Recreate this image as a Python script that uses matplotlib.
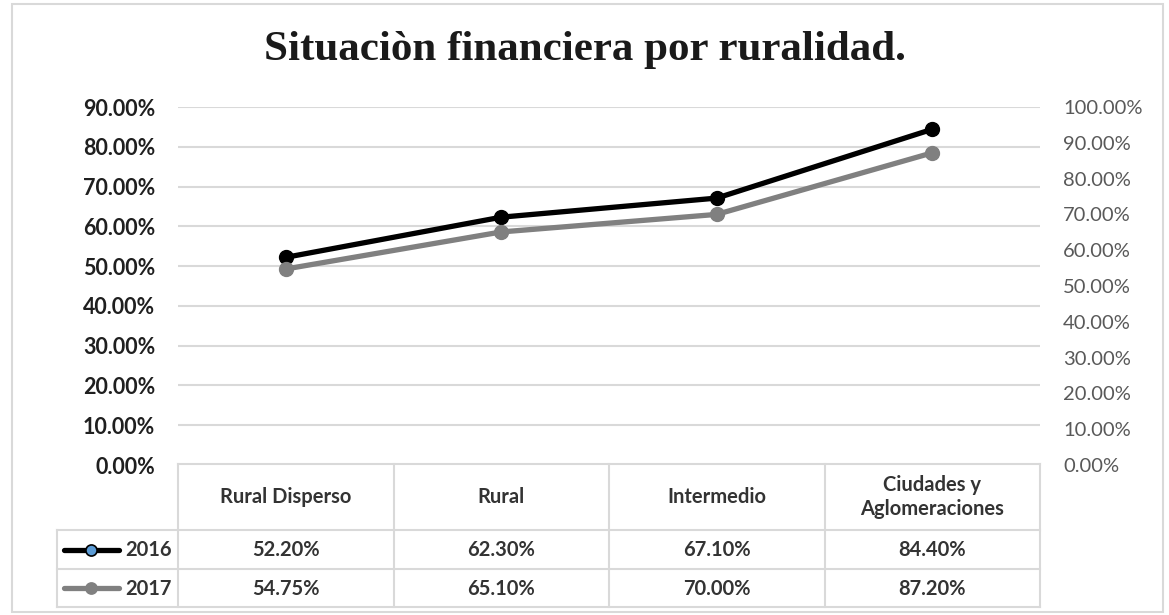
import matplotlib
matplotlib.use("Agg")
import matplotlib.pyplot as plt
from matplotlib.transforms import blended_transform_factory
from matplotlib.lines import Line2D
from matplotlib.patches import Rectangle

# data
categories = ["Rural Disperso", "Rural", "Intermedio", "Ciudades y\nAglomeraciones"]
series_names = ["2016", "2017"]
values_2016 = [0.522, 0.623, 0.671, 0.844]
values_2017 = [0.5475, 0.651, 0.700, 0.872]
left_ticks = [0.0, 0.1, 0.2, 0.3, 0.4, 0.5, 0.6, 0.7, 0.8, 0.9]
right_ticks = [0.0, 0.1, 0.2, 0.3, 0.4, 0.5, 0.6, 0.7, 0.8, 0.9, 1.0]
title = "Situaciòn financiera por ruralidad."

W, H = 1169, 615
FONT = "Lato"
GRID = "#d9d9d9"
TXT = "#333333"

fig = plt.figure(figsize=(W / 100, H / 100), dpi=100)
fig.patch.set_facecolor("white")

# overlay in pixel coords (y down) for frame and table
over = fig.add_axes([0, 0, 1, 1], zorder=0)
over.set_xlim(0, W)
over.set_ylim(H, 0)
over.axis("off")
over.add_patch(Rectangle((12, 4), 1151, 608, fill=False, edgecolor=GRID, lw=1.5))

# plot area
x0, x1, ytop, ybot = 178, 1040, 107, 465
ax = fig.add_axes([x0 / W, (H - ybot) / H, (x1 - x0) / W, (ybot - ytop) / H], zorder=2)
ax.patch.set_alpha(0)
ax2 = ax.twinx()
xs = list(range(len(categories)))

ax.set_xlim(-0.5, len(categories) - 0.5)
ax.set_ylim(0, 0.9)
ax2.set_ylim(0, 1.0)
ax.set_yticks(left_ticks)
ax2.set_yticks(right_ticks)
ax.set_yticklabels(["%.2f%%" % (v * 100) for v in left_ticks],
                   fontsize=15.5, fontweight="bold", family=FONT, color="#1f1f1f")
ax2.set_yticklabels(["%.2f%%" % (v * 100) for v in right_ticks],
                    fontsize=14.5, family=FONT, color="#595959")
ax.tick_params(axis="y", length=0, pad=16.5)
ax2.tick_params(axis="y", length=0, pad=16.5)
ax.set_xticks([])
for a in (ax, ax2):
    for s in a.spines.values():
        s.set_visible(False)
ax.grid(axis="y", color=GRID, lw=1.5)
ax.set_axisbelow(True)

ax.plot(xs, values_2016, color="black", lw=3.8, marker="o", ms=10, zorder=5)
ax2.plot(xs, values_2017, color="#808080", lw=3.8, marker="o", ms=10, zorder=4)

fig.text(0.5, 1 - 50 / H, title, ha="center", va="center", fontsize=31,
         fontweight="bold", family="Liberation Serif", color="#1a1a1a")

# data table under the plot
tr = blended_transform_factory(ax.transData, over.transData)
row_y = [464, 530, 569, 607]
leg_left = 57
lk = dict(color=GRID, lw=1.5, zorder=1)
over.plot([x0, x1], [row_y[0]] * 2, **lk)
over.plot([leg_left, x1], [row_y[1]] * 2, **lk)
over.plot([leg_left, x1], [row_y[2]] * 2, **lk)
over.plot([leg_left, x1], [row_y[3]] * 2, **lk)
over.plot([leg_left, leg_left], [row_y[1], row_y[3]], **lk)
for i in range(len(categories) + 1):
    over.plot([i - 0.5, i - 0.5], [row_y[0], row_y[3]], transform=tr, **lk)

cell_font = dict(fontsize=14.5, fontweight="bold", family=FONT, color=TXT,
                 ha="center", va="center")
for i, cat in enumerate(categories):
    over.text(i, (row_y[0] + row_y[1]) / 2, cat, transform=tr,
              linespacing=1.2, **cell_font)
    over.text(i, (row_y[1] + row_y[2]) / 2 + 1, "%.2f%%" % (values_2016[i] * 100),
              transform=tr, **cell_font)
    over.text(i, (row_y[2] + row_y[3]) / 2 + 1, "%.2f%%" % (values_2017[i] * 100),
              transform=tr, **cell_font)

# legend keys in the table
keys = [("black", "#5b9bd5", "black"), ("#808080", "#808080", "#808080")]
for r, (name, (lc, mfc, mec)) in enumerate(zip(series_names, keys)):
    yc = (row_y[1 + r] + row_y[2 + r]) / 2
    over.add_line(Line2D([64, 119], [yc, yc], color=lc, lw=3.8, solid_capstyle="round",
                         zorder=3))
    over.add_line(Line2D([91], [yc], marker="o", ms=8, mfc=mfc, mec=mec, mew=1.2,
                         zorder=4))
    over.text(172, yc + 1, name, ha="right", va="center", fontsize=14.5,
              fontweight="bold", family=FONT, color=TXT)

fig.savefig("out.png", dpi=100, facecolor="white")
